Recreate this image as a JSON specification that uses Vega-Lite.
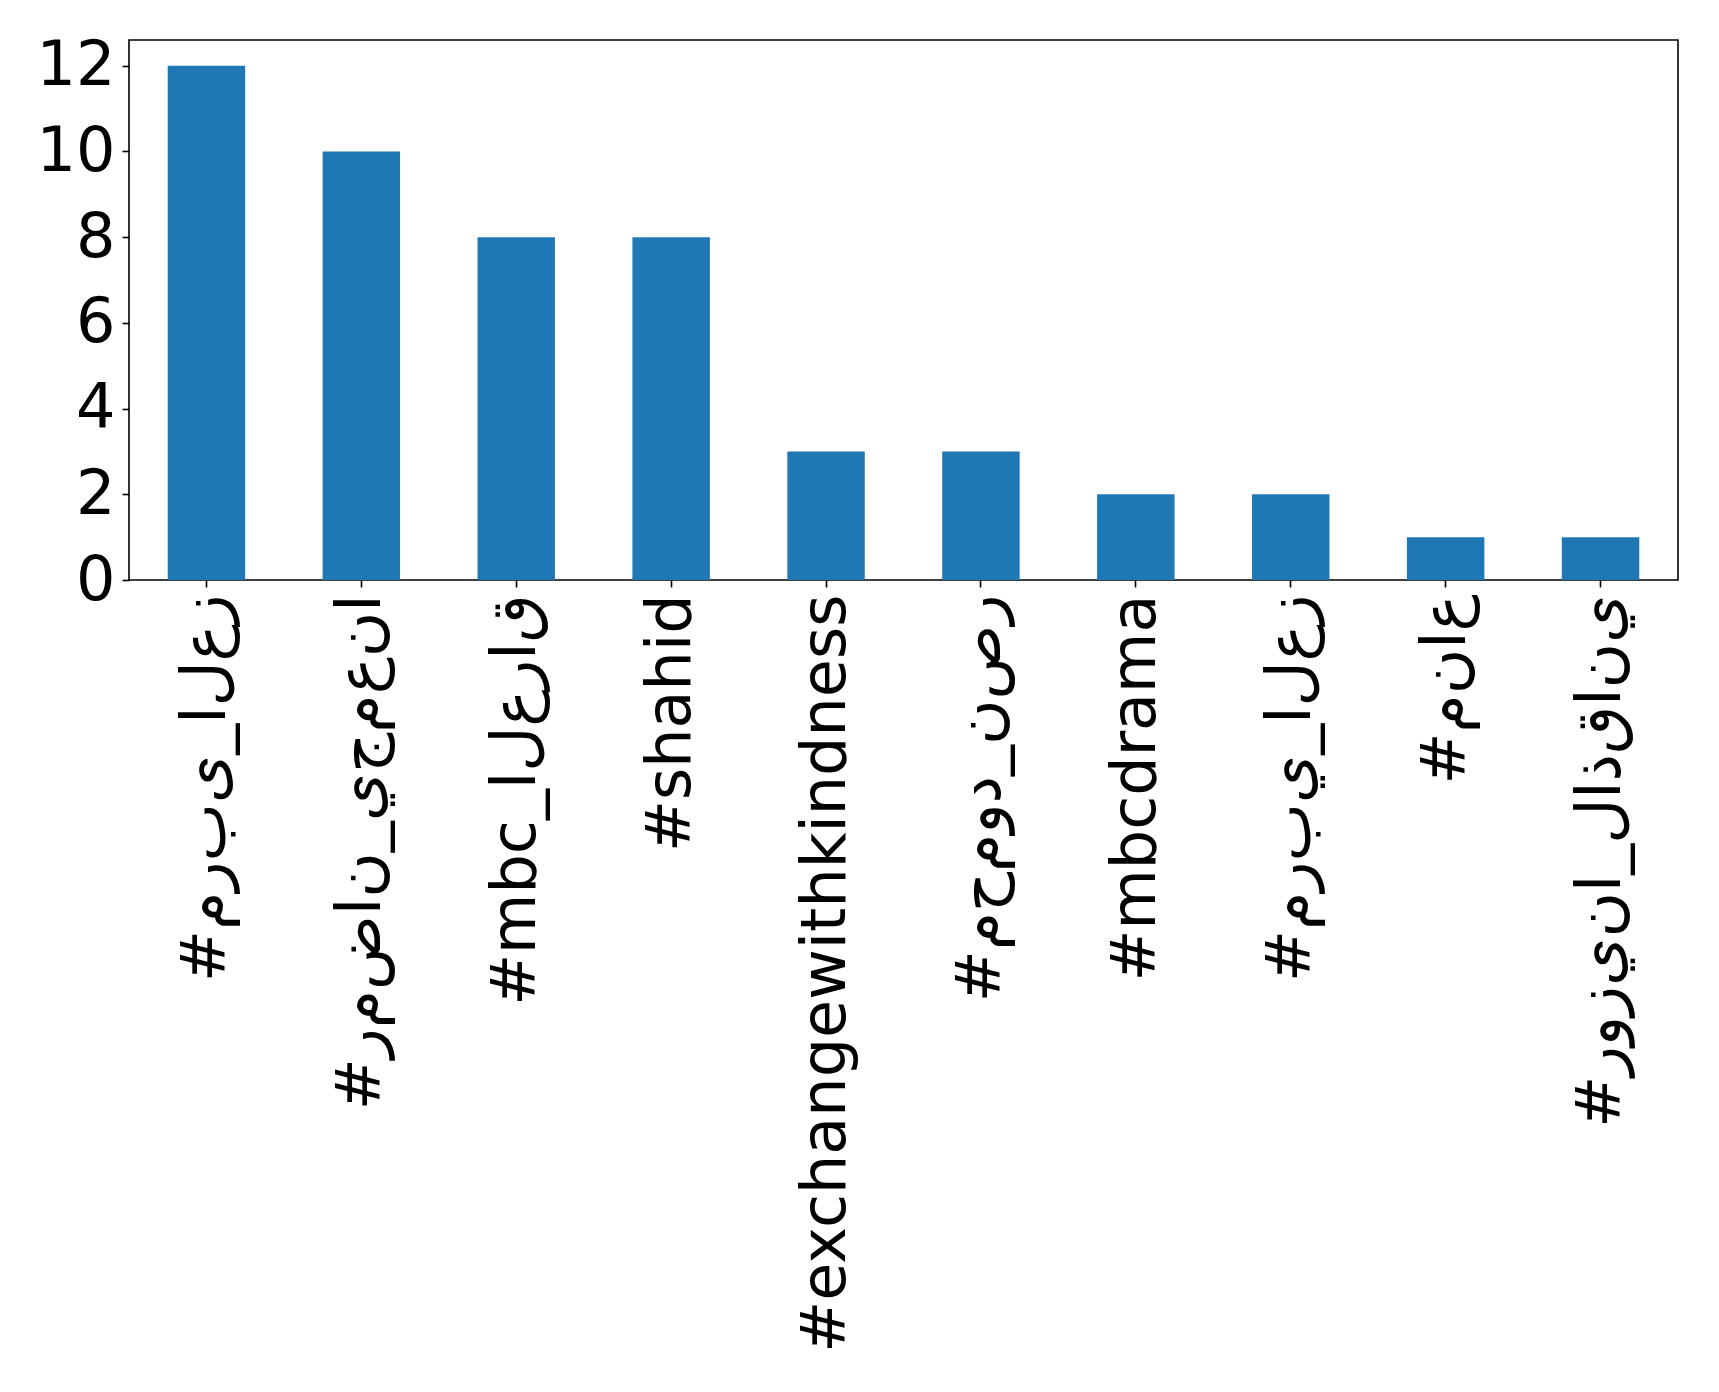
{
  "$schema": "https://vega.github.io/schema/vega-lite/v6.json",
  "width": 1549,
  "height": 540,
  "autosize": {"type": "none"},
  "padding": {"left": 129, "top": 40, "right": 41, "bottom": 812},
  "background": "white",
  "config": {
    "view": {"stroke": "black", "strokeWidth": 1.6},
    "axis": {"grid": false, "domain": false, "labelFont": "DejaVu Sans", "labelFontSize": 62, "labelColor": "black", "tickColor": "black", "tickSize": 7, "tickWidth": 1.6, "labelPadding": 7, "labelLimit": 2000, "labelOverlap": false, "title": null}
  },
  "data": {
    "values": [
      {"hashtag": "#مربى_العز", "count": 12},
      {"hashtag": "#رمضان_يجمعنا", "count": 10},
      {"hashtag": "#mbc_العراق", "count": 8},
      {"hashtag": "#shahid", "count": 8},
      {"hashtag": "#exchangewithkindness", "count": 3},
      {"hashtag": "#محمود_نصر", "count": 3},
      {"hashtag": "#mbcdrama", "count": 2},
      {"hashtag": "#مربي_العز", "count": 2},
      {"hashtag": "#مناع", "count": 1},
      {"hashtag": "#روزينا_لاذقاني", "count": 1}
    ]
  },
  "mark": {"type": "bar", "color": "#1f77b4"},
  "encoding": {
    "x": {
      "field": "hashtag",
      "type": "nominal",
      "sort": null,
      "scale": {"paddingInner": 0.5, "paddingOuter": 0.25},
      "axis": {"labelAngle": -90, "labelExpr": "'\u202d' + replace(datum.label, regexp('([\u0600-\u06ff])', 'g'), '$1\u200c')"}
    },
    "y": {
      "field": "count",
      "type": "quantitative",
      "scale": {"domain": [0, 12.6], "nice": false, "zero": true},
      "axis": {"values": [0, 2, 4, 6, 8, 10, 12]}
    }
  }
}
